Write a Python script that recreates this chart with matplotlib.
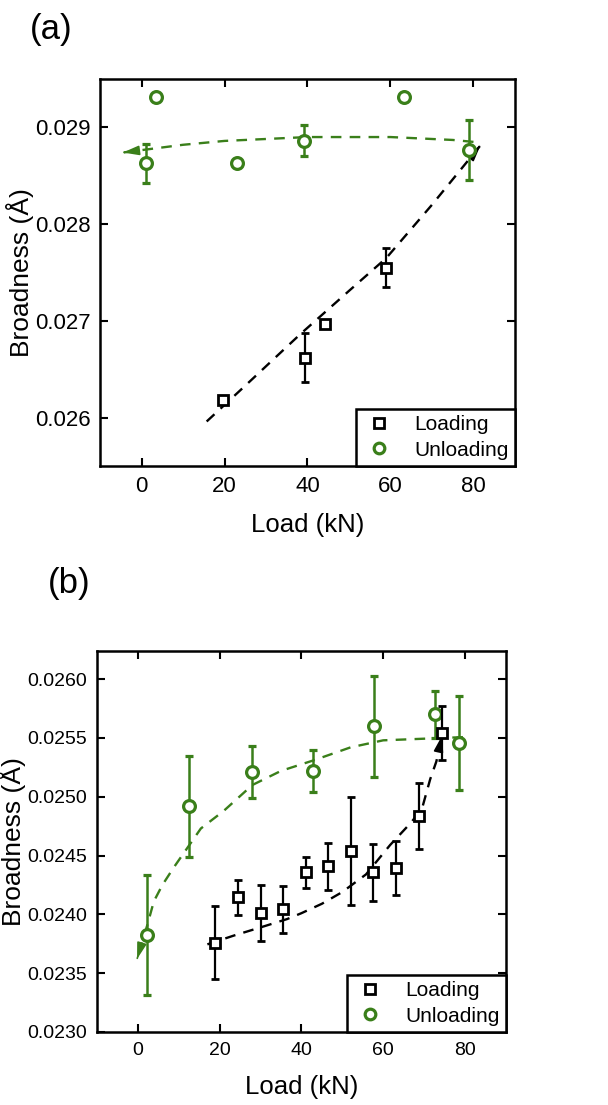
import matplotlib
matplotlib.use('Agg')
import matplotlib.pyplot as plt

plt.rcParams['font.family'] = ['Liberation Sans', 'DejaVu Sans']

green = '#3a7f1a'

# panel (a) data ------------------------------------------------------------------------
a_load_x = [19.6, 39.4, 44.2, 59.0]
a_load_y = [0.02618, 0.02662, 0.02697, 0.02755]
a_load_err = [0.0, 0.00025, 0.0, 0.0002]

a_unload_x = [3.4, 1.0, 23.0, 39.2, 63.2, 78.8]
a_unload_y = [0.02931, 0.02863, 0.02863, 0.02886, 0.02931, 0.02877]
a_unload_err = [0.0, 0.0002, 0.0, 0.00016, 0.0, 0.00031]

# guide lines
a_load_fit_x = [15.7, 25.0, 38.2, 50.0, 59.0, 70.0, 81.7]
a_load_fit_y = [0.02596, 0.02633, 0.02686, 0.02731, 0.02765, 0.02820, 0.028815]
a_unload_fit_x = [80.0, 75.0, 60.0, 40.0, 20.0, 10.0, -4.5]
a_unload_fit_y = [0.02885, 0.02887, 0.02890, 0.02890, 0.02886, 0.02882, 0.02874]

# panel (b) data ------------------------------------------------------------------------
b_load_x = [18.8, 24.4, 30.0, 35.6, 41.2, 46.6, 52.2, 57.6, 63.1, 68.8, 74.4]
b_load_y = [0.02376, 0.024145, 0.02401, 0.024043, 0.024357, 0.024408, 0.024536,
            0.024357, 0.024391, 0.024838, 0.025541]
b_load_err = [0.00031, 0.00015, 0.00024, 0.0002, 0.00013, 0.0002, 0.00046,
              0.00024, 0.00023, 0.00028, 0.00023]

b_unload_x = [2.2, 12.4, 27.8, 42.9, 57.8, 72.7, 78.5]
b_unload_y = [0.023821, 0.02492, 0.02521, 0.025218, 0.0256, 0.025702, 0.025456]
b_unload_err = [0.00051, 0.00043, 0.00022, 0.00018, 0.00043, 0.0002, 0.0004]

b_load_fit_x = [17.0, 23.5, 31.0, 36.5, 40.0, 45.0, 50.0, 55.8, 61.7, 66.8, 69.5, 71.5, 73.0, 74.4]
b_load_fit_y = [0.023745, 0.02382, 0.0239, 0.02396, 0.02401, 0.02409, 0.02419, 0.02434,
                0.02459, 0.02478, 0.0249, 0.02515, 0.0253, 0.02552]
b_unload_fit_x = [79.5, 60.0, 52.0, 43.0, 35.0, 28.0, 21.0, 15.4, 12.4, 8.8, 6.0, 3.9, 2.4, -0.2]
b_unload_fit_y = [0.025507, 0.02548, 0.02542, 0.02531, 0.02522, 0.0251, 0.02488, 0.02473,
                  0.02458, 0.0244, 0.02425, 0.02411, 0.02392, 0.02362]


def draw_fit(ax, xs, ys, color):
    ax.plot(xs, ys, '--', color=color, lw=1.7, dashes=(4.5, 3.5))
    # solid head only, sitting on the end of the last segment
    x0 = xs[-1] - 0.02 * (xs[-1] - xs[-2])
    y0 = ys[-1] - 0.02 * (ys[-1] - ys[-2])
    ax.annotate('', xy=(xs[-1], ys[-1]), xytext=(x0, y0),
                arrowprops=dict(arrowstyle='-|>,head_length=0.75,head_width=0.22', color=color,
                                lw=1.2, mutation_scale=13, shrinkA=0, shrinkB=0))


def style_axes(ax, yticks, fmt, tsize, ylab_x):
    ax.set_xlim(-10, 90)
    ax.set_xticks([0, 20, 40, 60, 80])
    ax.set_yticks(yticks)
    ax.set_yticklabels([fmt.format(t) for t in yticks])
    ax.tick_params(direction='in', top=True, right=True, length=6, width=1.5,
                   labelsize=tsize, pad=7)
    for s in ax.spines.values():
        s.set_linewidth(1.8)
    ax.set_xlabel('Load (kN)', fontsize=18.5, labelpad=12)
    ax.set_ylabel('Broadness (Å)', fontsize=19)
    ax.yaxis.set_label_coords(ylab_x, 0.5)


def draw_points(ax, lx, ly, le, ux, uy, ue):
    u = ax.errorbar(ux, uy, yerr=ue, fmt='o', mfc='white', mec=green, ecolor=green,
                    mew=2.3, ms=8.5, capsize=3, elinewidth=1.8, capthick=1.8, zorder=3)
    l = ax.errorbar(lx, ly, yerr=le, fmt='s', mfc='white', mec='black', ecolor='black',
                    mew=2.0, ms=7.5, capsize=2.8, elinewidth=1.6, capthick=1.6, zorder=4)
    leg = ax.legend([l[0], u[0]], ['Loading', 'Unloading'], loc='lower right', fontsize=15,
                    frameon=True, fancybox=False, framealpha=1, edgecolor='black',
                    borderaxespad=0, handletextpad=0.9, borderpad=0.3, labelspacing=0.3,
                    handlelength=1.6, markerscale=0.9)
    leg.get_frame().set_linewidth(1.8)


fig = plt.figure(figsize=(6.08, 11.05), dpi=100)

# (a) -----------------------------------------------------------------------------------
ax1 = fig.add_axes([0.1645, 0.5783, 0.6825, 0.3502])
draw_fit(ax1, a_unload_fit_x, a_unload_fit_y, green)
draw_fit(ax1, a_load_fit_x, a_load_fit_y, 'black')
draw_points(ax1, a_load_x, a_load_y, a_load_err, a_unload_x, a_unload_y, a_unload_err)
ax1.set_ylim(0.0255, 0.0295)
style_axes(ax1, [0.026, 0.027, 0.028, 0.029], '{:.3f}', 16, -0.16)
fig.text(0.084, 0.973, '(a)', fontsize=25, ha='center', va='center')

# (b) -----------------------------------------------------------------------------------
ax2 = fig.add_axes([0.1595, 0.0661, 0.6725, 0.3448])
draw_fit(ax2, b_unload_fit_x, b_unload_fit_y, green)
draw_fit(ax2, b_load_fit_x, b_load_fit_y, 'black')
draw_points(ax2, b_load_x, b_load_y, b_load_err, b_unload_x, b_unload_y, b_unload_err)
ax2.set_ylim(0.0230, 0.02624)
style_axes(ax2, [0.0230, 0.0235, 0.0240, 0.0245, 0.0250, 0.0255, 0.0260], '{:.4f}', 14, -0.173)
fig.text(0.113, 0.4715, '(b)', fontsize=25, ha='center', va='center')

fig.savefig('out.png', dpi=100)
